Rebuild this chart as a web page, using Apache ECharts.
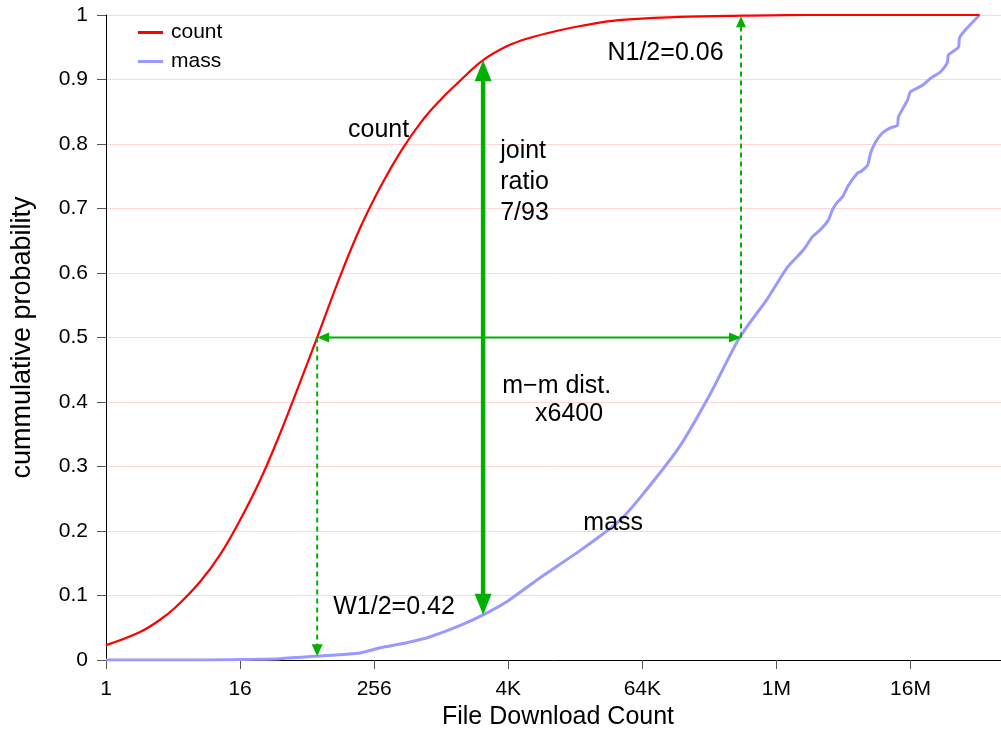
<!DOCTYPE html>
<html>
<head>
<meta charset="utf-8">
<title>File Download Count CDF</title>
<script src="https://cdn.jsdelivr.net/npm/echarts@6/dist/echarts.min.js"></script>
<style>
  html, body { margin: 0; padding: 0; background: #ffffff; }
  #chart { width: 1001px; height: 731px; }
</style>
</head>
<body>
<div id="chart"></div>
<script>
// x values are log2(download count); y values are cumulative probability
const countX = [0, 1.0, 1.6, 2.06, 2.8, 3.4, 4.0, 4.6, 5.2, 5.8, 6.3, 7.0, 7.6, 8.2, 8.8, 9.4, 9.97, 10.48, 11.25, 11.97, 12.6, 13.5, 14.15, 15.3, 17.1, 19.0, 21.0, 26.06];
const countP = [0.023, 0.043, 0.062, 0.081, 0.121, 0.163, 0.217, 0.279, 0.352, 0.432, 0.5, 0.597, 0.672, 0.735, 0.789, 0.834, 0.868, 0.894, 0.93, 0.952, 0.964, 0.976, 0.983, 0.992, 0.997, 0.999, 1.0, 1.0];

const massX = [0, 3.0, 4.5, 5.19, 6.3, 7.58, 8.18, 9.0, 9.67, 10.5, 11.25, 12.0, 12.96, 14.15, 15.3, 16.0, 17.1, 18.0, 18.9, 19.73, 20.33, 20.81, 21.07, 21.31, 21.55, 21.67, 21.82, 21.97, 22.15, 22.42, 22.51, 22.72, 22.81, 22.96, 23.16, 23.4, 23.61, 23.64, 23.91, 24.0, 24.36, 24.6, 24.9, 25.1, 25.13, 25.43, 25.46, 25.64, 26.06];
const massP = [0, 0.0, 0.001, 0.002, 0.006, 0.011, 0.019, 0.027, 0.036, 0.052, 0.07, 0.092, 0.128, 0.17, 0.215, 0.256, 0.33, 0.41, 0.5, 0.56, 0.609, 0.636, 0.656, 0.667, 0.682, 0.698, 0.71, 0.718, 0.736, 0.755, 0.757, 0.767, 0.786, 0.803, 0.817, 0.825, 0.829, 0.842, 0.868, 0.881, 0.891, 0.902, 0.912, 0.926, 0.938, 0.95, 0.964, 0.977, 1.0];

const xTickExponents = [0, 4, 8, 12, 16, 20, 24];
const xTickLabels = ['1', '16', '256', '4K', '64K', '1M', '16M'];

// medians and the distance between them
const countMedian = 6.3;                 // log2 of the count median
const mmDist = Math.log2(6400);          // m-m distance, x6400
const massMedian = countMedian + mmDist;
const jointX = 11.25;                    // where count + mass = 1
const jointCount = 0.93;
const jointMass = 0.07;

// arrows: [x1, y1, x2, y2]
const arrows = [
  [jointX, jointMass, jointX, jointCount],
  [countMedian, 0.5, massMedian, 0.5],
  [countMedian, 0.5, countMedian, 0.006],
  [massMedian, 0.5, massMedian, 0.998]
];
const arrowStyles = [
  { width: 4.5, headLen: 21, headWid: 17, both: true, dash: null },
  { width: 2, headLen: 12, headWid: 10, both: true, dash: null },
  { width: 2, headLen: 12, headWid: 11, both: false, dash: [5, 4] },
  { width: 2, headLen: 11, headWid: 10, both: false, dash: [5, 4] }
];

const annoTexts = ['count', 'joint\nratio\n7/93', 'm\u2212m dist.', 'x6400', 'mass', 'W1/2=0.42', 'N1/2=0.06'];
const annoAnchors = [[7.22, 0.822], [11.76, 0.741], [11.82, 0.424], [12.8, 0.382], [14.24, 0.212], [6.78, 0.082], [14.96, 0.941]];

const FONT = '"Liberation Sans", Arial, Helvetica, sans-serif';
const GREEN = '#00b000';

const zip = (xs, ys) => xs.map((x, i) => [x, ys[i]]);

function renderArrow(params, api) {
  const st = arrowStyles[params.dataIndex];
  const p1 = api.coord([api.value(0), api.value(1)]);
  const p2 = api.coord([api.value(2), api.value(3)]);
  const dx = p2[0] - p1[0], dy = p2[1] - p1[1];
  const len = Math.hypot(dx, dy);
  const ux = dx / len, uy = dy / len;
  const nx = -uy, ny = ux;
  const head = (tip, dir) => {
    const bx = tip[0] - dir * ux * st.headLen, by = tip[1] - dir * uy * st.headLen;
    return {
      type: 'polygon',
      shape: { points: [tip, [bx + nx * st.headWid / 2, by + ny * st.headWid / 2], [bx - nx * st.headWid / 2, by - ny * st.headWid / 2]] },
      style: { fill: GREEN }
    };
  };
  const s0 = st.both ? st.headLen * 0.8 : 0;
  const s1 = st.headLen * 0.8;
  const children = [{
    type: 'line',
    shape: { x1: p1[0] + ux * s0, y1: p1[1] + uy * s0, x2: p2[0] - ux * s1, y2: p2[1] - uy * s1 },
    style: { stroke: GREEN, lineWidth: st.width, lineDash: st.dash || null, fill: null }
  }, head(p2, 1)];
  if (st.both) children.push(head(p1, -1));
  return { type: 'group', children };
}

function renderText(params, api) {
  const p = api.coord([api.value(0), api.value(1)]);
  return {
    type: 'text',
    x: p[0], y: p[1],
    style: {
      text: annoTexts[params.dataIndex],
      fontSize: 25, fontFamily: FONT, fill: '#000',
      align: 'left', verticalAlign: 'middle', lineHeight: 31
    }
  };
}

const chart = echarts.init(document.getElementById('chart'), null, { renderer: 'canvas' });
chart.setOption({
  animation: false,
  backgroundColor: '#ffffff',
  textStyle: { fontFamily: FONT },
  grid: { left: 106, right: 0, top: 15, bottom: 71, containLabel: false, outerBoundsMode: 'none' },
  legend: {
    orient: 'vertical', left: 133, top: 17, itemWidth: 25, itemHeight: 3, itemGap: 8,
    icon: 'rect',
    textStyle: { fontSize: 21, fontFamily: FONT, color: '#000', padding: [0, 0, 0, 3] },
    data: ['count', 'mass']
  },
  xAxis: {
    type: 'value', min: 0, max: 26.7, interval: 4,
    name: 'File Download Count', nameLocation: 'middle', nameGap: 44,
    nameTextStyle: { fontSize: 25, fontFamily: FONT, color: '#000', padding: [0, 0, 0, 9] },
    axisLine: { lineStyle: { color: '#000', width: 1 } },
    axisTick: { show: true, length: 9, customValues: xTickExponents, lineStyle: { color: '#555' } },
    axisLabel: {
      customValues: xTickExponents, margin: 19, fontSize: 21, fontFamily: FONT, color: '#000',
      formatter: v => { const i = xTickExponents.indexOf(Math.round(v)); return i >= 0 ? xTickLabels[i] : ''; }
    },
    splitLine: { show: false }
  },
  yAxis: {
    type: 'value', min: 0, max: 1, interval: 0.1,
    name: 'cummulative probability', nameLocation: 'middle', nameGap: 70,
    nameTextStyle: { fontSize: 27, fontFamily: FONT, color: '#000' },
    axisLine: { show: true, lineStyle: { color: '#000', width: 1 } },
    axisTick: { show: true, length: 9, lineStyle: { color: '#555' } },
    axisLabel: { margin: 18, fontSize: 21, fontFamily: FONT, color: '#000' },
    splitLine: { show: true, lineStyle: { color: '#ffd6d6', width: 1 } }
  },
  series: [
    {
      name: 'count', type: 'line', data: zip(countX, countP),
      showSymbol: false, symbol: 'none', smooth: 0.4,
      lineStyle: { color: '#ff0000', width: 2.2 }, itemStyle: { color: '#ff0000' }, z: 3
    },
    {
      name: 'mass', type: 'line', data: zip(massX, massP),
      showSymbol: false, symbol: 'none', smooth: 0.2,
      lineStyle: { color: '#9999ff', width: 3 }, itemStyle: { color: '#9999ff' }, z: 2
    },
    {
      type: 'custom', data: arrows, renderItem: renderArrow,
      encode: { x: [0, 2], y: [1, 3] }, z: 4, silent: true
    },
    {
      type: 'custom', data: annoAnchors, renderItem: renderText,
      encode: { x: 0, y: 1 }, z: 5, silent: true
    }
  ]
});
</script>
</body>
</html>
